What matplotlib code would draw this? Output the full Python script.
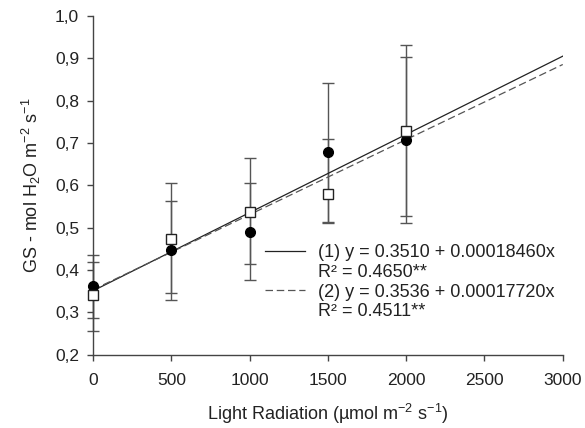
import matplotlib
matplotlib.use("Agg")
import matplotlib.pyplot as plt
from matplotlib.lines import Line2D
import numpy as np

plt.rcParams['font.family'] = ['Liberation Sans', 'DejaVu Sans']
plt.rcParams['mathtext.fontset'] = 'custom'
plt.rcParams['mathtext.rm'] = 'Liberation Sans'

x_vals = [0, 500, 1000, 1500, 2000]
s1_mean = [0.362, 0.448, 0.491, 0.678, 0.708]
s1_err_low = [0.075, 0.118, 0.115, 0.165, 0.197]
s1_err_up = [0.074, 0.116, 0.114, 0.163, 0.195]
s2_mean = [0.340, 0.473, 0.538, 0.579, 0.729]
s2_err_low = [0.083, 0.127, 0.124, 0.068, 0.201]
s2_err_up = [0.080, 0.132, 0.126, 0.130, 0.201]

fit1 = (0.3510, 0.00018460)
fit2 = (0.3536, 0.00017720)
eq1 = "(1) y = 0.3510 + 0.00018460x"
r1 = "R² = 0.4650**"
eq2 = "(2) y = 0.3536 + 0.00017720x"
r2 = "R² = 0.4511**"

xticks = [0, 500, 1000, 1500, 2000, 2500, 3000]
yticks = [0.2, 0.3, 0.4, 0.5, 0.6, 0.7, 0.8, 0.9, 1.0]
yticklabels = ['0,2', '0,3', '0,4', '0,5', '0,6', '0,7', '0,8', '0,9', '1,0']

fig = plt.figure(figsize=(5.85, 4.28), dpi=100)
ax = fig.add_axes([0.159, 0.171, 0.803, 0.792])

ecol = '#555555'
for m, lo, up in ((s1_mean, s1_err_low, s1_err_up), (s2_mean, s2_err_low, s2_err_up)):
    eb = ax.errorbar(x_vals, m, yerr=[lo, up], fmt='none',
                     ecolor=ecol, elinewidth=1.0, capsize=4, capthick=1.0, zorder=2)
    for art in eb.lines[1] + eb.lines[2]:
        art.set_clip_on(False)

xl = np.array([0, 3000])
l1, = ax.plot(xl, fit1[0] + fit1[1] * xl, color='#222222', lw=0.9, ls='-', zorder=3)
l2, = ax.plot(xl, fit2[0] + fit2[1] * xl, color='#555555', lw=0.9, ls=(0, (6, 3)), zorder=3)

ax.plot(x_vals, s1_mean, 'o', color='black', markersize=7, zorder=4, clip_on=False)
ax.plot(x_vals, s2_mean, 's', markerfacecolor='white', markeredgecolor='#222222',
        markeredgewidth=1.0, markersize=6.5, zorder=5, clip_on=False)

ax.set_xlim(0, 3000)
ax.set_ylim(0.2, 1.0)
ax.set_xticks(xticks)
ax.set_xticklabels([str(t) for t in xticks])
ax.set_yticks(yticks)
ax.set_yticklabels(yticklabels)
ax.spines['top'].set_visible(False)
ax.spines['right'].set_visible(False)
for s in ('left', 'bottom'):
    ax.spines[s].set_color('#444444')
    ax.spines[s].set_linewidth(1.0)
ax.tick_params(direction='out', length=4, width=1.0, color='#444444',
               labelsize=12.5, labelcolor='#222222')
ax.tick_params(axis='x', pad=9)
ax.tick_params(axis='y', pad=6)

ax.set_xlabel('Light Radiation (µmol m$^{-2}$ s$^{-1}$)', fontsize=13, color='#222222', labelpad=10)
ax.set_ylabel('GS - mol H$_2$O m$^{-2}$ s$^{-1}$', fontsize=13, color='#222222', labelpad=9)

blank = Line2D([], [], linestyle='none')
leg = ax.legend([l1, blank, l2, blank], [eq1, r1, eq2, r2], loc='upper left',
                bbox_to_anchor=(0.366, 0.326), frameon=False, fontsize=13,
                handlelength=2.2, handletextpad=0.72, labelspacing=0.15,
                borderaxespad=0.0, borderpad=0.0)
for t in leg.get_texts():
    t.set_color('#222222')

fig.savefig('out.png', dpi=100)
